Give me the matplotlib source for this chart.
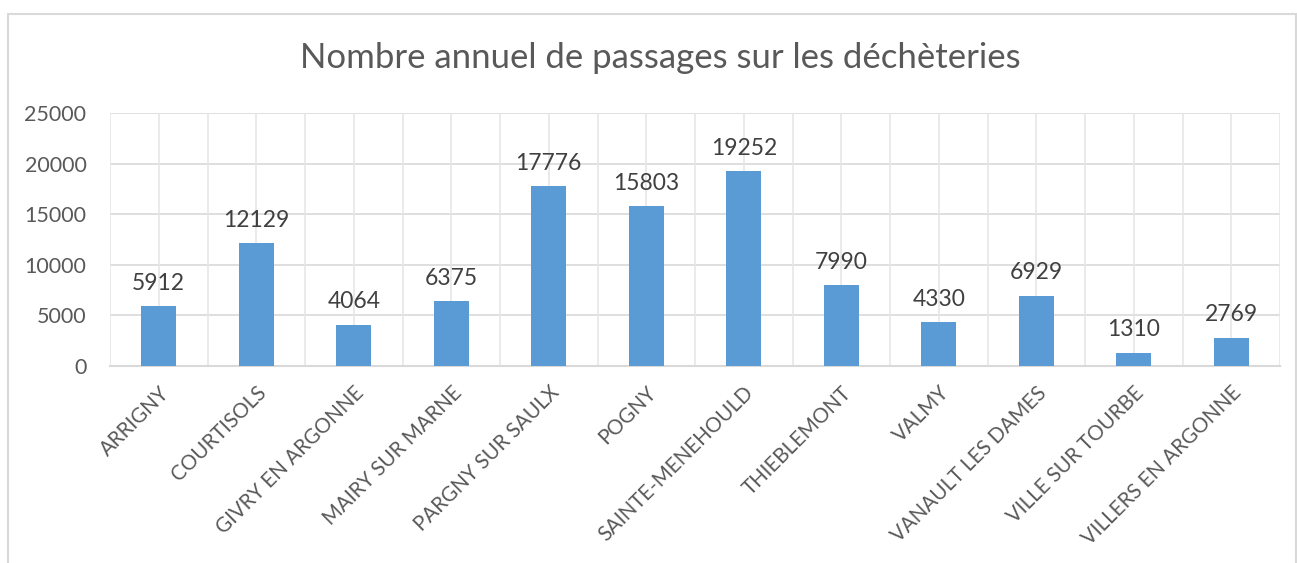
import numpy as np
import matplotlib
matplotlib.use("Agg")
import matplotlib.pyplot as plt
from matplotlib.patches import Rectangle

# data
sites = ["ARRIGNY", "COURTISOLS", "GIVRY EN ARGONNE", "MAIRY SUR MARNE",
         "PARGNY SUR SAULX", "POGNY", "SAINTE-MENEHOULD", "THIEBLEMONT",
         "VALMY", "VANAULT LES DAMES", "VILLE SUR TOURBE", "VILLERS EN ARGONNE"]
passages = [5912, 12129, 4064, 6375, 17776, 15803, 19252, 7990, 4330, 6929, 1310, 2769]
y_ticks = [0, 5000, 10000, 15000, 20000, 25000]
title = "Nombre annuel de passages sur les déchèteries"

plt.rcParams["font.family"] = ["Lato", "DejaVu Sans"]

fig = plt.figure(figsize=(12.97, 5.63), dpi=100)
# chart frame like the spreadsheet one
fig.patches.append(Rectangle((8 / 1297, -0.05), 1288 / 1297, 1.05 - 14 / 563,
                             transform=fig.transFigure, fill=False,
                             edgecolor="#D9D9D9", linewidth=1.5))

ax = fig.add_axes([110 / 1297, 1 - 366 / 563, 1170 / 1297, 253 / 563])
x = np.arange(len(sites))
bars = ax.bar(x, passages, width=0.36, color="#5B9BD5", zorder=3)

for xi, v in zip(x, passages):
    ax.annotate(str(v), (xi, v), xytext=(0, 9), textcoords="offset points",
                ha="center", va="bottom", fontsize=16.5, color="#404040")

ax.set_xlim(-0.5, len(sites) - 0.5)
ax.set_ylim(0, 25000)
ax.set_yticks(y_ticks)
ax.set_yticklabels([str(t) for t in y_ticks], fontsize=15.5, color="#595959")
ax.set_xticks(x)
ax.set_xticklabels(sites, rotation=45, ha="right", va="top",
                   rotation_mode="anchor", fontsize=14.8, color="#595959")
ax.tick_params(length=0)
ax.tick_params(axis="y", pad=17)
ax.tick_params(axis="x", pad=12)

# gridlines at every half category, plus horizontal ones
for gx in np.arange(-0.5, len(sites), 0.5):
    ax.axvline(gx, color="#E6E6E6", linewidth=1.2, zorder=1)
ax.yaxis.grid(True, color="#D9D9D9", linewidth=1.2, zorder=1)
ax.set_axisbelow(True)

for side in ["top", "right", "left"]:
    ax.spines[side].set_visible(False)
ax.spines["bottom"].set_color("#D9D9D9")
ax.spines["bottom"].set_linewidth(1.5)

fig.text(660 / 1297, 1 - 58 / 563, title, ha="center", va="center",
         fontsize=25, color="#595959")

fig.savefig("out.png", dpi=100)
